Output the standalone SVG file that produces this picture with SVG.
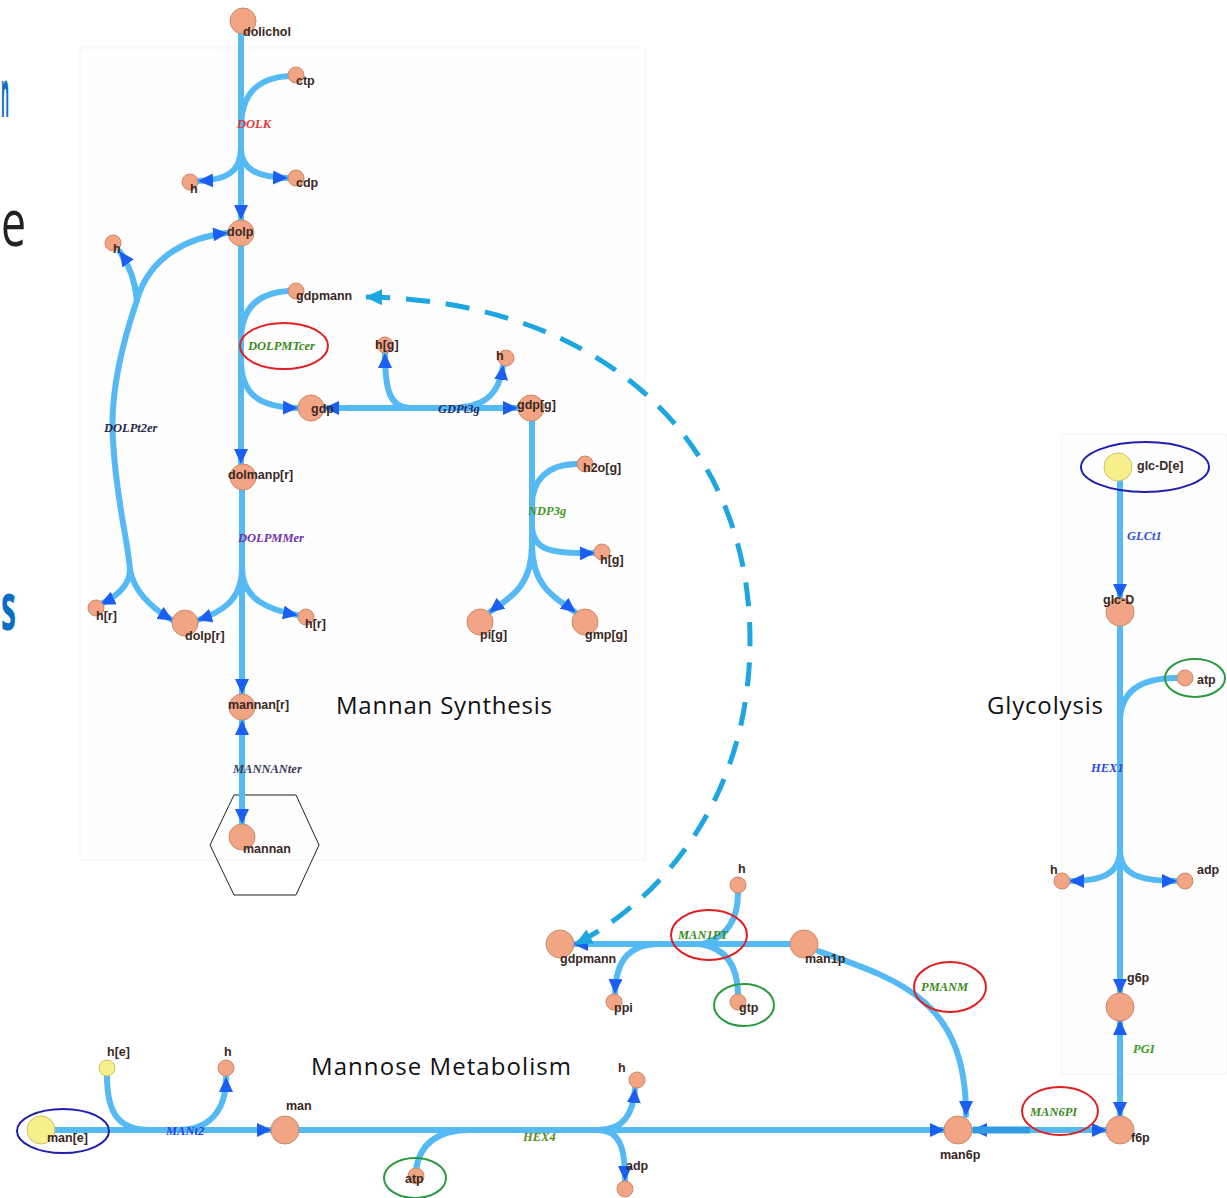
<svg xmlns="http://www.w3.org/2000/svg" width="1227" height="1198" viewBox="0 0 1227 1198">
<style>
.bg{fill:#ffffff}
.panel{fill:#fefefe;stroke:#f3f3f3;stroke-width:1}
.ln{fill:none;stroke:#55b9f3;stroke-width:6;stroke-linecap:round}
.dash{fill:none;stroke:#1ea6e0;stroke-width:5;stroke-dasharray:24 16}
.n{fill:#f2a584;stroke:#c98a6a;stroke-width:1}
.y{fill:#f7ef8c;stroke:#cfc06a;stroke-width:1}
.lb{font-family:"Liberation Sans",Arial,sans-serif;font-size:12.5px;font-weight:bold;fill:#3a2724}
.rx{font-family:"Liberation Serif","Times New Roman",serif;font-size:12.5px;font-style:italic;font-weight:bold}
.title{font-family:"Open Sans","Liberation Sans",sans-serif;font-size:24px;fill:#111}
.big{font-family:"Open Sans","Liberation Sans",sans-serif;font-size:66px}
.red{fill:none;stroke:#e02020;stroke-width:2}
.grn{fill:none;stroke:#2a9a40;stroke-width:2}
.blu{fill:none;stroke:#2020b0;stroke-width:2}
</style>
<defs>
<marker id="ah" markerUnits="userSpaceOnUse" markerWidth="16" markerHeight="14" refX="14" refY="7" orient="auto-start-reverse" viewBox="0 0 16 14">
<path d="M0,0 L15,7 L0,14 Z" fill="#1a5ff2"/>
</marker>
<marker id="ahd" markerUnits="userSpaceOnUse" markerWidth="18" markerHeight="16" refX="16" refY="8" orient="auto-start-reverse" viewBox="0 0 18 16">
<path d="M0,0 L17,8 L0,16 Z" fill="#1ea6e0"/>
</marker>
</defs>
<rect class="bg" x="0" y="0" width="1227" height="1198"/>
<rect class="panel" x="80" y="48" width="565" height="812"/>
<rect class="panel" x="1062" y="434" width="165" height="640"/>

<g id="slide-text">
<text class="big" x="1" y="117" textLength="8" lengthAdjust="spacingAndGlyphs" fill="#0a6fc2" font-weight="bold">n</text>
<text class="big" x="1" y="246" textLength="25" lengthAdjust="spacingAndGlyphs" fill="#222">e</text>
<text class="big" x="1" y="630" textLength="15" lengthAdjust="spacingAndGlyphs" fill="#0a6fc2" font-weight="bold">s</text>
</g>

<g id="titles">
<text class="title" x="336" y="714" textLength="216">Mannan Synthesis</text>
<text class="title" x="987" y="714" textLength="116">Glycolysis</text>
<text class="title" x="311" y="1075" textLength="260">Mannose Metabolism</text>
</g>

<g id="compartment">
<polygon points="234,795 296,795 319,845 296,895 234,895 210,845" fill="none" stroke="#222" stroke-width="1"/>
</g>

<g id="connectors">
<!-- DOLK -->
<path class="ln" d="M241,33 L241,219" marker-end="url(#ah)"/>
<path class="ln" d="M289,76 C256,78 241,95 241,128"/>
<path class="ln" d="M241,148 C241,172 226,180 199,181" marker-end="url(#ah)"/>
<path class="ln" d="M241,148 C241,170 258,177 287,178" marker-end="url(#ah)"/>
<!-- DOLPMTcer -->
<path class="ln" d="M241,246 L241,463" marker-end="url(#ah)"/>
<path class="ln" d="M288,291 C256,293 241,310 241,340"/>
<path class="ln" d="M241,360 C241,395 260,407 297,408" marker-end="url(#ah)"/>
<!-- GDPt3g -->
<path class="ln" d="M325,408 L517,408" marker-start="url(#ah)" marker-end="url(#ah)"/>
<path class="ln" d="M410,408 C390,408 385,390 385,354" marker-end="url(#ah)"/>
<path class="ln" d="M462,407 C490,405 500,388 503,366" marker-end="url(#ah)"/>
<!-- NDP3g -->
<path class="ln" d="M532,421 L532,560"/>
<path class="ln" d="M577,464 C548,464 532,480 532,505"/>
<path class="ln" d="M532,525 C532,550 550,554 594,553" marker-end="url(#ah)"/>
<path class="ln" d="M532,545 C532,590 505,600 490,612" marker-end="url(#ah)"/>
<path class="ln" d="M532,545 C532,590 560,600 575,612" marker-end="url(#ah)"/>
<!-- DOLPt2er -->
<path class="ln" d="M137,300 C120,350 110,400 113,440 C116,500 128,540 130,570"/>
<path class="ln" d="M137,300 C135,280 130,266 120,252" marker-end="url(#ah)"/>
<path class="ln" d="M137,300 C150,255 190,237 227,233" marker-end="url(#ah)"/>
<path class="ln" d="M130,570 C130,585 116,597 101,604" marker-end="url(#ah)"/>
<path class="ln" d="M130,570 C135,595 155,610 172,620" marker-end="url(#ah)"/>
<!-- DOLPMMer -->
<path class="ln" d="M242,490 L242,693" marker-end="url(#ah)"/>
<path class="ln" d="M242,568 C242,600 222,612 198,620" marker-end="url(#ah)"/>
<path class="ln" d="M242,568 C242,600 270,610 297,615" marker-end="url(#ah)"/>
<!-- MANNANter -->
<path class="ln" d="M242,721 L242,823" marker-start="url(#ah)" marker-end="url(#ah)"/>
<!-- MANt2 -->
<path class="ln" d="M56,1130 L271,1130" marker-end="url(#ah)"/>
<path class="ln" d="M107,1076 C107,1115 120,1130 150,1130"/>
<path class="ln" d="M178,1130 C210,1130 226,1110 226,1078" marker-end="url(#ah)"/>
<!-- HEX4 -->
<path class="ln" d="M299,1130 L944,1130" marker-end="url(#ah)"/>
<path class="ln" d="M416,1170 C420,1142 440,1130 470,1130"/>
<path class="ln" d="M598,1130 C625,1130 633,1112 635,1089" marker-end="url(#ah)"/>
<path class="ln" d="M598,1130 C620,1130 625,1148 625,1180" marker-end="url(#ah)"/>
<!-- MAN1PT -->
<path class="ln" d="M790,944 L574,944" marker-end="url(#ah)"/>
<path class="ln" d="M738,893 C738,918 728,936 705,943"/>
<path class="ln" d="M738,995 C738,965 725,948 700,944"/>
<path class="ln" d="M660,944 C626,944 616,964 615,993" marker-end="url(#ah)"/>
<!-- PMANM -->
<path class="ln" d="M818,951 C900,980 966,1000 966,1115" marker-end="url(#ah)"/>
<!-- MAN6PI -->
<path class="ln" d="M973,1130 L1106,1130" marker-start="url(#ah)" marker-end="url(#ah)"/>
<path d="M973,1130 L1030,1130" fill="none" stroke="#2f9be3" stroke-width="7"/>
<!-- PGI -->
<path class="ln" d="M1120,1021 L1120,1116" marker-start="url(#ah)" marker-end="url(#ah)"/>
<!-- HEX1 -->
<path class="ln" d="M1120,626 L1120,993" marker-end="url(#ah)"/>
<path class="ln" d="M1177,678 C1142,678 1120,690 1120,722"/>
<path class="ln" d="M1120,850 C1120,875 1100,881 1070,881" marker-end="url(#ah)"/>
<path class="ln" d="M1120,850 C1120,875 1140,881 1176,881" marker-end="url(#ah)"/>
<!-- GLCt1 -->
<path class="ln" d="M1120,481 L1120,598" marker-end="url(#ah)"/>
<!-- dashed link -->
<path class="dash" d="M366,297 C590,300 750,430 750,640 C750,800 660,900 576,944" marker-start="url(#ahd)" marker-end="url(#ahd)"/>
</g>

<g id="reaction-labels">
<text class="rx" x="237" y="128" fill="#e03a3a">DOLK</text>
<g id="DOLPMTcer"><ellipse class="red" cx="284" cy="346" rx="44" ry="23"/><text class="rx" x="248" y="350" fill="#3d8a22">DOLPMTcer</text></g>
<text class="rx" x="438" y="413" fill="#1c2e6e">GDPt3g</text>
<text class="rx" x="528" y="515" fill="#3d9a22">NDP3g</text>
<text class="rx" x="104" y="432" fill="#2a2a4a">DOLPt2er</text>
<text class="rx" x="238" y="542" fill="#7232a6">DOLPMMer</text>
<text class="rx" x="233" y="773" fill="#3a3a58">MANNANter</text>
<text class="rx" x="166" y="1135" fill="#2244e6">MANt2</text>
<text class="rx" x="523" y="1141" fill="#5a8c12">HEX4</text>
<g id="MAN1PT"><ellipse class="red" cx="709" cy="935" rx="38" ry="25"/><text class="rx" x="678" y="939" fill="#3d8a22">MAN1PT</text></g>
<g id="PMANM"><ellipse class="red" cx="950" cy="987" rx="36" ry="25"/><text class="rx" x="921" y="991" fill="#3d8a22">PMANM</text></g>
<g id="MAN6PI"><ellipse class="red" cx="1060" cy="1111" rx="38" ry="24"/><text class="rx" x="1030" y="1116" fill="#3d8a22">MAN6PI</text></g>
<text class="rx" x="1133" y="1053" fill="#3d9a22">PGI</text>
<text class="rx" x="1127" y="540" fill="#3050e0">GLCt1</text>
<text class="rx" x="1091" y="772" fill="#2a48e6">HEX1</text>
</g>

<g id="nodes">
<g id="dolichol"><circle class="n" cx="243" cy="21" r="13"/><text class="lb" x="243" y="36">dolichol</text></g>
<g id="ctp"><circle class="n" cx="296" cy="75" r="8"/><text class="lb" x="296" y="85">ctp</text></g>
<g id="h1"><circle class="n" cx="190" cy="182" r="8"/><text class="lb" x="190" y="193">h</text></g>
<g id="cdp"><circle class="n" cx="296" cy="178" r="8"/><text class="lb" x="296" y="187">cdp</text></g>
<g id="dolp"><circle class="n" cx="241" cy="233" r="13"/><text class="lb" x="227" y="236">dolp</text></g>
<g id="h2"><circle class="n" cx="113" cy="243" r="8"/><text class="lb" x="113" y="253">h</text></g>
<g id="gdpmann1"><circle class="n" cx="296" cy="291" r="8"/><text class="lb" x="296" y="300">gdpmann</text></g>
<g id="gdp"><circle class="n" cx="311" cy="408" r="13"/><text class="lb" x="311" y="413">gdp</text></g>
<g id="hg1"><circle class="n" cx="385" cy="345" r="8"/><text class="lb" x="375" y="349">h[g]</text></g>
<g id="h3"><circle class="n" cx="506" cy="358" r="8"/><text class="lb" x="496" y="360">h</text></g>
<g id="gdpg"><circle class="n" cx="531" cy="408" r="13"/><text class="lb" x="517" y="409">gdp[g]</text></g>
<g id="h2og"><circle class="n" cx="585" cy="464" r="8"/><text class="lb" x="583" y="472">h2o[g]</text></g>
<g id="hg2"><circle class="n" cx="602" cy="552" r="8"/><text class="lb" x="600" y="564">h[g]</text></g>
<g id="pig"><circle class="n" cx="480" cy="622" r="13"/><text class="lb" x="480" y="639">pi[g]</text></g>
<g id="gmpg"><circle class="n" cx="585" cy="622" r="13"/><text class="lb" x="585" y="639">gmp[g]</text></g>
<g id="dolmanpr"><circle class="n" cx="243" cy="477" r="13"/><text class="lb" x="228" y="479">dolmanp[r]</text></g>
<g id="hr1"><circle class="n" cx="96" cy="608" r="8"/><text class="lb" x="96" y="620">h[r]</text></g>
<g id="dolpr"><circle class="n" cx="185" cy="623" r="13"/><text class="lb" x="185" y="640">dolp[r]</text></g>
<g id="hr2"><circle class="n" cx="306" cy="617" r="8"/><text class="lb" x="305" y="628">h[r]</text></g>
<g id="mannanr"><circle class="n" cx="242" cy="707" r="13"/><text class="lb" x="228" y="709">mannan[r]</text></g>
<g id="mannan"><circle class="n" cx="242" cy="837" r="13"/><text class="lb" x="243" y="853">mannan</text></g>

<g id="mane"><ellipse class="blu" cx="63" cy="1131" rx="46" ry="22"/><circle class="y" cx="41" cy="1130" r="14"/><text class="lb" x="47" y="1142">man[e]</text></g>
<g id="he"><circle class="y" cx="107" cy="1068" r="8"/><text class="lb" x="107" y="1056">h[e]</text></g>
<g id="h4"><circle class="n" cx="226" cy="1068" r="8"/><text class="lb" x="224" y="1056">h</text></g>
<g id="man"><circle class="n" cx="285" cy="1130" r="14"/><text class="lb" x="286" y="1110">man</text></g>
<g id="atp1"><ellipse class="grn" cx="415" cy="1178" rx="31" ry="20"/><circle class="n" cx="416" cy="1176" r="8"/><text class="lb" x="405" y="1183">atp</text></g>
<g id="h5"><circle class="n" cx="637" cy="1080" r="8"/><text class="lb" x="618" y="1072">h</text></g>
<g id="adp1"><circle class="n" cx="625" cy="1189" r="8"/><text class="lb" x="626" y="1170">adp</text></g>
<g id="gdpmann2"><circle class="n" cx="560" cy="944" r="14"/><text class="lb" x="560" y="963">gdpmann</text></g>
<g id="ppi"><circle class="n" cx="614" cy="1002" r="8"/><text class="lb" x="614" y="1012">ppi</text></g>
<g id="gtp"><ellipse class="grn" cx="744" cy="1005" rx="30" ry="21"/><circle class="n" cx="738" cy="1002" r="8"/><text class="lb" x="739" y="1012">gtp</text></g>
<g id="h6"><circle class="n" cx="738" cy="885" r="8"/><text class="lb" x="738" y="873">h</text></g>
<g id="man1p"><circle class="n" cx="804" cy="944" r="14"/><text class="lb" x="805" y="963">man1p</text></g>
<g id="man6p"><circle class="n" cx="958" cy="1130" r="14"/><text class="lb" x="940" y="1159">man6p</text></g>
<g id="f6p"><circle class="n" cx="1120" cy="1130" r="14"/><text class="lb" x="1131" y="1142">f6p</text></g>
<g id="g6p"><circle class="n" cx="1120" cy="1007" r="14"/><text class="lb" x="1127" y="982">g6p</text></g>
<g id="glcDe"><ellipse class="blu" cx="1145" cy="467" rx="64" ry="25"/><circle class="y" cx="1118" cy="467" r="14"/><text class="lb" x="1137" y="470">glc-D[e]</text></g>
<g id="glcD"><circle class="n" cx="1120" cy="612" r="14"/><text class="lb" x="1103" y="604">glc-D</text></g>
<g id="atp2"><ellipse class="grn" cx="1195" cy="678" rx="30" ry="19"/><circle class="n" cx="1185" cy="678" r="8"/><text class="lb" x="1197" y="684">atp</text></g>
<g id="h7"><circle class="n" cx="1062" cy="881" r="8"/><text class="lb" x="1050" y="874">h</text></g>
<g id="adp2"><circle class="n" cx="1185" cy="881" r="8"/><text class="lb" x="1197" y="874">adp</text></g>
</g>
</svg>
